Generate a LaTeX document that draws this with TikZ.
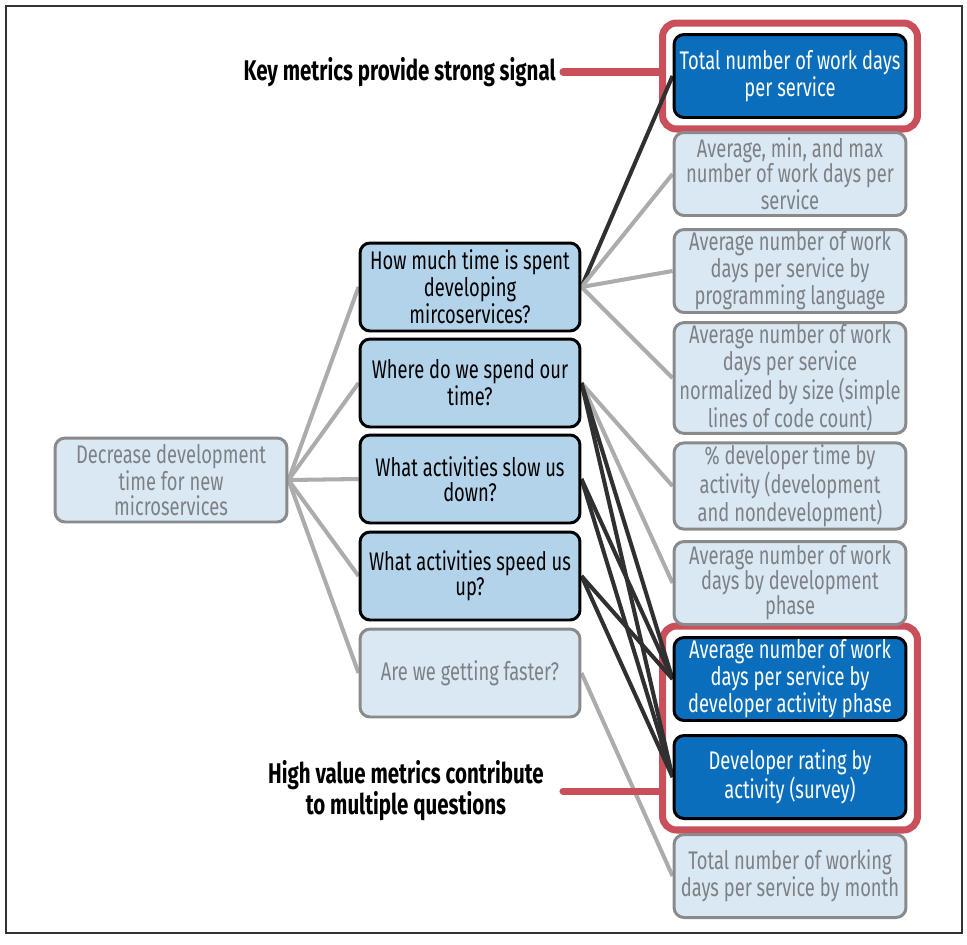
\documentclass[tikz,border=0pt]{standalone}
\usepackage{fontspec}
\setmainfont{Fira Sans}[FakeStretch=0.72]
\usetikzlibrary{fit,backgrounds}

\definecolor{keyblue}{RGB}{11,110,189}
\definecolor{qblue}{RGB}{178,211,234}
\definecolor{paleblue}{RGB}{218,232,244}
\definecolor{paleline}{RGB}{138,138,138}
\definecolor{fadetext}{RGB}{125,128,132}
\definecolor{hired}{RGB}{201,80,90}
\definecolor{linkgrey}{RGB}{172,172,172}
\definecolor{linkdark}{RGB}{48,48,48}

\newcommand{\boxfont}{\fontsize{14.5}{14.2}\selectfont}
\newcommand{\callfont}{\bfseries\fontsize{16.2}{14}\selectfont}

\begin{document}
\begin{tikzpicture}[x=0.02cm, y=-0.02cm,
	box/.style={draw, rounded corners=0.2cm, align=center, line width=1.7pt, inner sep=1pt, font=\boxfont},
	goal box/.style={box, fill=paleblue, draw=paleline, text=fadetext, minimum width=4.64cm, minimum height=1.68cm},
	question box/.style={box, fill=qblue, draw=black, text=black, minimum width=4.4cm, minimum height=1.76cm},
	faded box/.style={box, fill=paleblue, draw=paleline, text=fadetext, minimum width=4.4cm, minimum height=1.76cm},
	metric box/.style={box, fill=paleblue, draw=paleline, text=fadetext, minimum width=4.64cm, minimum height=1.66cm},
	key box/.style={box, fill=keyblue, draw=black, text=white, minimum width=4.64cm, minimum height=1.66cm},
	weak link/.style={draw=linkgrey, line width=2.3pt},
	strong link/.style={draw=linkdark, line width=2.3pt},
	hilite/.style={draw=hired, line width=4pt, rounded corners=0.28cm, inner sep=0.2cm},
	callout/.style={anchor=east, inner sep=0pt, align=center, font=\callfont}]
	\useasboundingbox (0,0) rectangle (967,944);

	%outer frame
	\draw[line width=1.2pt, black!80] (6,6) rectangle (962,933);

	%goal
	\node[goal box] (goal) at (171,480) {Decrease development\\time for new\\microservices};

	%questions
	\node[question box] (howmuch) at (470,287) {How much time is spent\\developing\\mircoservices?};
	\node[question box] (where) at (470,383) {Where do we spend our\\time?};
	\node[question box] (slow) at (470,479) {What activities slow us\\down?};
	\node[question box] (speed) at (470,576) {What activities speed us\\up?};
	\node[faded box] (faster) at (470,673) {Are we getting faster?};

	%metrics
	\node[key box] (totaldays) at (790,76) {Total number of work days\\per service};
	\node[metric box] (avgminmax) at (790,174) {Average, min, and max\\number of work days per\\service};
	\node[metric box] (bylang) at (790,271) {Average number of work\\days per service by\\programming language};
	\node[metric box, minimum height=2.1cm] (bysize) at (790,378) {Average number of work\\days per service\\normalized by size (simple\\lines of code count)};
	\node[metric box] (devtime) at (790,486) {\% developer time by\\activity (development\\and nondevelopment)};
	\node[metric box] (byphase) at (790,583) {Average number of work\\days by development\\phase};
	\node[key box] (byactivity) at (790,679) {Average number of work\\days per service by\\developer activity phase};
	\node[key box] (rating) at (790,777) {Developer rating by\\activity (survey)};
	\node[metric box] (bymonth) at (790,876) {Total number of working\\days per service by month};

	\begin{pgfonlayer}{background}
		%highlight frames
		\node[hilite, fit=(totaldays)] (keyframe) {};
		\node[hilite, fit=(byactivity) (rating)] (highframe) {};

		%goal to questions
		\draw[weak link] (goal.east) -- (howmuch.west);
		\draw[weak link] (goal.east) -- (where.west);
		\draw[weak link] (goal.east) -- (slow.west);
		\draw[weak link] (goal.east) -- (speed.west);
		\draw[weak link] (goal.east) -- (faster.west);

		%questions to metrics
		\draw[strong link] (howmuch.east) -- (totaldays.west);
		\draw[weak link] (howmuch.east) -- (avgminmax.west);
		\draw[weak link] (howmuch.east) -- (bylang.west);
		\draw[weak link] (howmuch.east) -- (bysize.west);
		\draw[weak link] (where.east) -- (devtime.west);
		\draw[weak link] (where.east) -- (byphase.west);
		\draw[weak link] (faster.east) -- (bymonth.west);
		\draw[strong link] (where.east) -- (byactivity.west);
		\draw[strong link] (where.east) -- (rating.west);
		\draw[strong link] (slow.east) -- (byactivity.west);
		\draw[strong link] (slow.east) -- (rating.west);
		\draw[strong link] (speed.east) -- (byactivity.west);
		\draw[strong link] (speed.east) -- (rating.west);
	\end{pgfonlayer}

	%callouts
	\node[callout] (keylabel) at (556,72) {Key metrics provide strong signal};
	\draw[hired, line width=4pt, line cap=round, shorten <=0.14cm] (keylabel.east) -- (keylabel.east -| keyframe.west);
	\node[callout] (highlabel) at (544,791) {High value metrics contribute\\to multiple questions};
	\draw[hired, line width=4pt, line cap=round, shorten <=0.38cm] (highlabel.east) -- (highlabel.east -| highframe.west);

\end{tikzpicture}
\end{document}
